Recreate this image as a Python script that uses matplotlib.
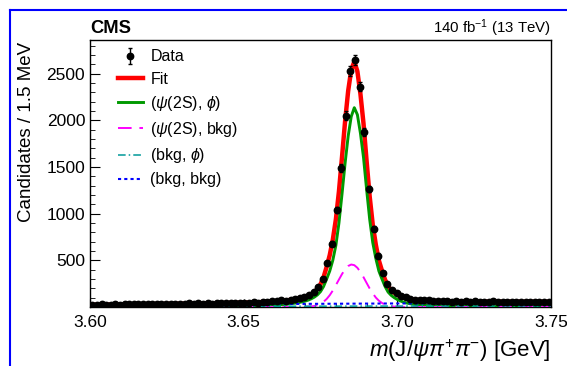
import numpy as np
import matplotlib.pyplot as plt
from matplotlib.lines import Line2D
from matplotlib.ticker import MultipleLocator

plt.rcParams['font.family'] = ['Liberation Sans', 'DejaVu Sans']
plt.rcParams['mathtext.fontset'] = 'custom'
plt.rcParams['mathtext.rm'] = 'Liberation Sans'
plt.rcParams['mathtext.it'] = 'Liberation Sans:italic'
plt.rcParams['mathtext.bf'] = 'Liberation Sans:bold'

# histogram: 100 bins of 1.5 MeV from 3.60 to 3.75 GeV
bin_lo = 3.60
bin_w = 0.0015
counts = [24, 22, 27, 23, 26, 28, 25, 29, 27, 31,
          28, 32, 29, 33, 30, 34, 31, 36, 33, 37,
          34, 38, 35, 39, 36, 40, 37, 42, 38, 43,
          40, 46, 42, 47, 44, 50, 46, 53, 52, 61,
          60, 70, 68, 79, 86, 96, 110, 127, 158, 210,
          305, 470, 680, 1040, 1490, 2050, 2530, 2645, 2360, 1870,
          1265, 840, 550, 360, 250, 185, 150, 118, 104, 90,
          80, 78, 74, 70, 66, 64, 62, 63, 57, 61,
          56, 60, 55, 59, 54, 58, 55, 59, 53, 57,
          54, 58, 52, 56, 53, 57, 52, 56, 53, 54]

# fit curves
curve_m = [3.600, 3.610, 3.620, 3.630, 3.640, 3.650, 3.655, 3.660, 3.664, 3.666,
           3.668, 3.669, 3.670, 3.671, 3.672, 3.673, 3.674, 3.675, 3.676, 3.677,
           3.678, 3.679, 3.680, 3.681, 3.682, 3.683, 3.684, 3.685, 3.686, 3.687,
           3.688, 3.689, 3.690, 3.691, 3.692, 3.693, 3.694, 3.695, 3.696, 3.697,
           3.698, 3.699, 3.700, 3.701, 3.702, 3.703, 3.704,
           3.706, 3.708, 3.710, 3.715, 3.720, 3.730, 3.740, 3.750]
fit_total = [23, 27, 31, 35, 39, 46, 51, 60, 71, 79,
             91, 99, 108, 120, 137, 160, 193, 244, 320, 430,
             555, 720, 938, 1238, 1607, 1989, 2314, 2540, 2628, 2525,
             2280, 1964, 1563, 1184, 882, 667, 498, 389, 293, 222,
             180, 152, 130, 114, 100, 91, 84,
             76, 70, 66, 60, 58, 56, 55, 55]
sig_phi = [0, 1, 2, 3, 5, 9, 13, 20, 30, 38,
           48, 55, 63, 74, 88, 106, 130, 165, 220, 300,
           385, 500, 660, 900, 1210, 1540, 1830, 2040, 2135, 2060,
           1860, 1600, 1260, 940, 690, 520, 385, 300, 220, 160,
           125, 100, 80, 65, 52, 43, 36,
           27, 21, 17, 11, 8, 5, 3, 2]
sig_bkg = [0, 0, 0, 0, 0, 0, 0, 0, 0, 0,
           1, 2, 2, 3, 6, 11, 20, 35, 56, 86,
           126, 176, 234, 294, 353, 404, 439, 455, 448, 420,
           375, 319, 258, 198, 146, 101, 67, 43, 26, 15,
           8, 4, 2, 1, 0, 0, 0,
           0, 0, 0, 0, 0, 0, 0, 0]

bkg_m = [3.60, 3.62, 3.64, 3.66, 3.68, 3.70, 3.72, 3.75]
bkg_phi = [5, 6, 7, 8, 9, 10, 10, 11]
bkg_bkg = [18, 23, 28, 32, 35, 38, 40, 42]

W, H = 567, 366
fig = plt.figure(figsize=(W / 100, H / 100), dpi=100)
ax = fig.add_axes([90 / W, 1 - 307 / H, 461 / W, 267 / H])

centers = bin_lo + bin_w * (np.arange(len(counts)) + 0.5)
counts = np.array(counts)

ax.plot(curve_m, fit_total, color='#ff0000', lw=3.2, label='Fit', zorder=2)
ax.plot(curve_m, sig_phi, color='#009900', lw=2.1, label=r'($\psi$(2S), $\phi$)', zorder=3)
ax.plot(curve_m, sig_bkg, color='#ff00ff', lw=1.4, ls=(0, (7, 4)), label=r'($\psi$(2S), bkg)', zorder=3)
ax.plot(bkg_m, bkg_phi, color='#009999', lw=1.1, ls=(0, (5, 2, 1, 2)), label=r'(bkg, $\phi$)', zorder=3)
ax.plot(bkg_m, bkg_bkg, color='#0000ff', lw=1.5, ls=(0, (1.5, 1.5)), label='(bkg, bkg)', zorder=3)
ax.errorbar(centers, counts, yerr=np.sqrt(counts), fmt='o', color='black', ms=4.6,
            elinewidth=1, capsize=1.5, label='Data', zorder=4)

ax.set_xlim(3.60, 3.75)
ax.set_ylim(0, 2860)
ax.set_xticks([3.60, 3.65, 3.70, 3.75])
ax.set_xticklabels(['3.60', '3.65', '3.70', '3.75'])
ax.xaxis.set_minor_locator(MultipleLocator(0.01))
ax.set_yticks([500, 1000, 1500, 2000, 2500])
ax.yaxis.set_minor_locator(MultipleLocator(100))
ax.tick_params(which='both', direction='in', top=False, right=False, labelsize=12.5)
ax.tick_params(axis='y', which='major', length=7, pad=3.5)
ax.tick_params(axis='y', which='minor', length=3.5)
ax.tick_params(axis='x', which='major', length=6, pad=6)
ax.tick_params(axis='x', which='minor', length=3)
for s in ax.spines.values():
    s.set_linewidth(1.0)

handles, labels = ax.get_legend_handles_labels()
order = [5, 0, 1, 2, 3, 4]
ax.legend([handles[i] for i in order], [labels[i] for i in order],
          loc='upper left', bbox_to_anchor=(0.06, 0.965), frameon=False,
          fontsize=11.5, handlelength=1.6, handletextpad=0.45, labelspacing=0.45,
          borderpad=0, borderaxespad=0)

fig.text(90 / W, 1 - 33 / H, 'CMS', fontsize=13.2, weight='bold', ha='left', va='baseline')
fig.text(551 / W, 1 - 33 / H, r'140 fb$^{-1}$ (13 TeV)', fontsize=10.8, ha='right', va='baseline')
fig.text(551 / W, 1 - 357 / H, r'$m$(J/$\psi\pi^{+}\pi^{-}$) [GeV]', fontsize=16,
         ha='right', va='baseline')
fig.text(27 / W, 1 - 42 / H, 'Candidates / 1.5 MeV', fontsize=13.5, rotation=90,
         ha='center', va='top')

# blue frame on the left and top edges
fig.add_artist(Line2D([10 / W, 10 / W], [0, 1 - 10 / H], color='#0000ff', lw=1.5,
                      transform=fig.transFigure))
fig.add_artist(Line2D([10 / W, 1], [1 - 10 / H, 1 - 10 / H], color='#0000ff', lw=1.5,
                      transform=fig.transFigure))

fig.savefig('out.png', dpi=100)
